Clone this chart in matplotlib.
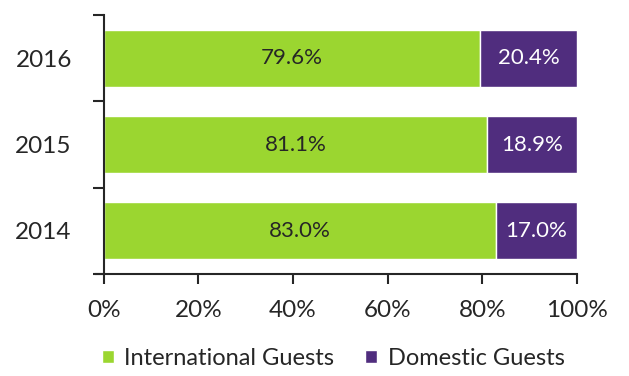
import numpy as np
import matplotlib
matplotlib.use("Agg")
import matplotlib.pyplot as plt  # noqa: E402

plt.rcParams["font.family"] = ["Lato", "DejaVu Sans"]

years = ["2014", "2015", "2016"]
international = [83.0, 81.1, 79.6]
domestic = [17.0, 18.9, 20.4]
xticks = [0, 20, 40, 60, 80, 100]

GREEN = "#9bd630"
PURPLE = "#502d7e"
INK = "#262626"


def main():
    fig = plt.figure(figsize=(6.29, 3.76), dpi=100)
    ax = fig.add_axes([0.165, 0.271, 0.752, 0.689])

    y = np.arange(len(years))
    ax.barh(y, international, height=0.66, color=GREEN, edgecolor="white",
            lw=1.0, label="International Guests")
    ax.barh(y, domestic, left=international, height=0.66, color=PURPLE,
            edgecolor="white", lw=1.0, label="Domestic Guests")

    for yi, a, d in zip(y, international, domestic):
        ax.text(a / 2, yi, f"{a:.1f}%", ha="center", va="center",
                fontsize=16, color=INK)
        ax.text(a + d / 2, yi, f"{d:.1f}%", ha="center", va="center",
                fontsize=16, color="white")

    ax.set_xlim(0, 100)
    ax.set_ylim(-0.5, len(years) - 0.5)
    ax.set_xticks(xticks)
    ax.set_xticklabels([f"{t}%" for t in xticks])
    # category boundaries carry the ticks, names sit between them
    ax.set_yticks(np.arange(len(years) + 1) - 0.5)
    ax.set_yticklabels([])
    ax.set_yticks(y, minor=True)
    ax.set_yticklabels(years, minor=True)
    ax.tick_params(axis="y", which="minor", length=0, pad=23,
                   labelsize=17.5, labelcolor=INK)
    ax.tick_params(axis="y", which="major", length=8, width=1.5, color=INK)
    ax.tick_params(axis="x", length=7, width=1.5, color=INK, pad=12,
                   labelsize=17.5, labelcolor=INK)
    for s in ("top", "right"):
        ax.spines[s].set_visible(False)
    for s in ("left", "bottom"):
        ax.spines[s].set_color(INK)
        ax.spines[s].set_linewidth(1.5)
    ax.spines["bottom"].set_bounds(-1.7, 100)

    ax.legend(loc="upper center", bbox_to_anchor=(0.485, -0.222), ncol=2,
              frameon=False, fontsize=17, handlelength=0.5, handleheight=0.5,
              handletextpad=0.45, columnspacing=1.3, labelcolor=INK,
              borderpad=0.2)

    fig.savefig("out.png", dpi=100)


if __name__ == "__main__":
    main()
